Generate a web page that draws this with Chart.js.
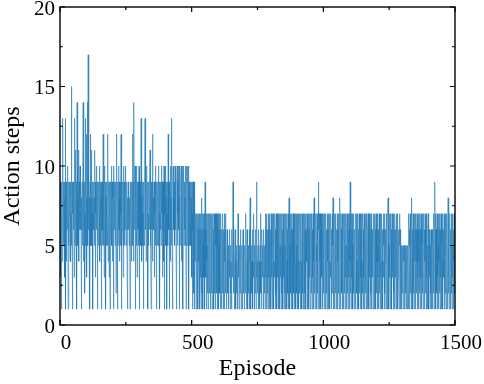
<!DOCTYPE html>
<html>
<head>
<meta charset="utf-8">
<script src="https://cdn.jsdelivr.net/npm/chart.js@4"></script>
<style>
  body { margin: 0; background: #fff; }
</style>
</head>
<body>
<canvas id="chartSteps" width="484" height="384"></canvas>
<script>
// action steps per episode, 250 episodes per block
const steps0 = [
  5,8,3,9,6,1,7,9,4,8,6,13,6,9,5,7,5,9,3,8,13,6,1,9,7,
  4,9,6,8,6,10,1,7,9,5,7,8,9,4,6,9,4,7,15,5,8,5,9,1,7,
  9,6,6,8,3,9,13,5,7,5,11,6,9,4,1,14,7,9,5,8,5,11,4,9,6,
  8,10,6,7,9,5,1,8,6,9,5,7,9,14,4,7,8,6,9,2,7,5,13,9,5,
  12,6,3,8,14,9,5,17,6,7,9,4,8,1,9,12,6,5,7,9,11,5,8,5,9,
  1,7,9,6,6,8,5,11,9,5,3,7,9,6,8,10,6,1,9,7,5,9,6,8,6,
  10,4,7,9,5,7,8,9,1,6,9,5,7,6,12,8,5,9,3,7,10,6,9,6,1,
  8,9,5,7,6,9,5,12,4,8,6,9,3,7,9,1,5,8,9,6,10,6,5,9,7,
  4,8,9,1,6,10,6,9,7,5,5,8,9,2,12,6,9,7,1,7,9,5,8,10,6,
  9,4,6,8,9,5,7,12,1,9,5,6,8,6,9,3,7,10,5,9,5,8,6,10,6
];
const steps1 = [
  9,5,7,5,9,3,8,1,6,9,6,7,9,5,8,5,1,9,6,7,6,9,4,8,5,
  12,6,5,9,4,8,14,6,7,9,10,1,5,9,6,10,5,8,3,9,7,6,9,5,6,
  10,1,8,5,9,6,7,5,13,6,9,4,8,6,9,5,7,1,9,6,5,8,9,13,6,
  7,9,4,5,8,10,6,6,9,1,7,5,9,8,6,6,9,11,5,8,5,1,9,7,6,
  9,12,4,7,6,8,6,9,3,5,7,9,5,6,10,6,1,8,9,5,7,6,9,5,8,
  10,5,6,9,1,7,9,6,8,5,10,5,7,9,3,6,6,9,8,4,10,5,1,7,9,
  10,6,5,8,6,9,1,7,9,5,5,12,8,6,9,1,6,9,7,4,10,6,8,13,5,
  9,5,7,1,9,10,6,6,8,5,9,5,10,7,6,9,4,8,1,9,10,6,5,7,9,
  10,6,8,1,9,10,5,7,6,9,10,4,6,9,5,8,10,1,7,9,10,5,6,9,6,
  8,10,5,9,1,10,7,9,5,10,6,9,6,10,1,9,8,5,9,7,6,9,5,8,9
];
const steps2 = [
  9,3,7,9,1,6,9,5,2,9,7,1,9,4,6,5,7,1,3,7,6,2,5,7,1,
  6,4,7,2,5,7,1,6,3,7,5,1,7,8,2,6,7,4,1,5,7,3,6,2,7,
  1,9,5,7,3,6,1,7,4,5,2,7,6,1,5,7,3,6,2,7,4,1,6,7,5,
  2,7,6,1,4,7,5,3,6,1,7,5,2,6,7,4,1,5,7,3,6,2,7,1,5,
  6,3,7,1,5,4,7,2,6,1,5,7,3,4,1,6,5,2,7,4,1,5,6,3,7,
  1,4,6,2,5,7,3,4,1,4,6,4,2,4,5,1,4,4,3,6,4,1,4,5,2,
  4,4,1,6,4,3,4,9,4,2,5,4,1,4,4,6,3,4,1,4,5,2,4,4,1,
  4,7,4,3,4,1,4,5,4,2,6,4,4,1,3,4,5,4,1,4,6,2,4,4,3,
  1,4,5,4,2,4,7,4,1,3,4,6,4,1,4,5,2,4,4,1,6,4,8,3,4,
  1,4,5,4,2,4,6,1,4,3,4,7,4,1,5,4,2,4,6,4,1,4,9,3,4
];
const steps3 = [
  2,4,5,1,4,6,4,3,4,1,5,4,7,2,4,4,1,6,4,3,5,4,1,4,6,
  4,2,5,4,1,7,4,3,6,1,5,7,2,6,4,1,7,5,3,6,1,7,4,2,6,
  5,1,7,3,6,4,1,7,5,2,6,7,1,4,6,3,7,5,1,6,2,7,4,5,1,
  7,3,6,5,1,7,4,2,6,7,1,5,3,7,6,1,4,7,2,5,6,1,7,3,5,
  6,1,7,4,2,5,7,1,6,3,7,5,1,4,6,2,7,5,1,6,8,3,7,1,5,
  4,7,2,6,1,5,7,3,6,1,7,4,5,2,7,6,1,5,3,7,6,1,4,7,2,
  5,7,1,6,3,7,5,1,4,6,2,7,5,1,6,7,3,4,1,7,5,2,6,1,7,
  4,6,1,5,7,2,6,3,7,1,5,6,4,7,1,3,6,5,2,7,1,6,4,7,3,
  1,5,7,6,2,4,7,1,6,5,3,7,1,6,4,8,2,5,7,1,6,3,7,5,1,
  4,7,6,2,5,1,9,3,6,7,1,5,4,7,2,6,1,7,5,3,6,1,4,7,5
];
const steps4 = [
  2,7,6,1,5,3,7,4,1,6,7,2,5,6,1,7,3,4,6,1,7,5,2,6,7,
  1,4,6,3,7,5,1,6,2,7,4,5,8,1,6,7,3,5,1,7,6,2,4,7,1,
  5,6,3,7,1,4,6,7,2,5,1,7,6,8,3,5,1,7,4,6,2,7,1,5,6,
  3,7,1,6,5,2,7,4,1,6,7,3,5,1,6,7,2,4,6,1,7,5,3,6,1,
  7,4,9,2,6,5,1,7,3,6,4,7,1,5,6,2,7,1,4,6,5,3,7,1,6,
  5,7,2,4,6,1,7,3,5,6,1,7,4,2,6,7,1,5,3,6,7,1,4,5,2,
  7,6,1,5,3,7,4,1,6,5,2,7,6,1,3,7,5,4,1,6,7,2,5,1,7,
  3,6,4,1,7,5,2,6,1,7,4,3,6,5,1,7,2,6,4,1,5,7,3,6,1,
  7,5,2,4,6,1,7,3,5,6,1,4,7,2,6,5,1,7,3,4,6,1,7,5,2,
  6,1,4,7,3,5,6,1,7,2,4,6,5,1,7,3,6,4,1,5,7,8,2,6,1
];
const steps5 = [
  5,7,3,6,1,4,7,5,2,6,1,7,4,3,6,5,1,7,2,6,4,1,7,5,3,
  6,1,7,4,5,2,6,7,1,3,5,6,4,1,7,2,5,6,1,4,3,5,1,4,2,
  5,3,4,1,5,2,4,5,1,3,5,4,2,5,1,4,3,5,2,1,5,4,3,5,1,
  7,4,6,1,5,7,2,6,3,7,1,8,5,4,6,1,7,2,5,6,1,7,3,4,6,
  1,7,5,2,6,4,7,1,5,3,6,7,1,4,6,2,7,5,1,6,3,7,4,1,5,
  6,7,2,4,1,6,5,7,3,1,6,4,7,2,5,6,1,7,3,5,4,1,6,7,2,
  5,1,6,4,3,6,1,5,2,6,4,1,5,6,3,1,6,5,2,4,7,1,6,5,9,
  3,7,1,6,4,5,2,7,1,6,3,5,7,1,4,6,2,7,5,1,6,3,7,4,1,
  5,6,2,7,1,4,6,5,3,7,1,6,4,2,7,5,1,6,3,7,4,1,5,6,8,
  2,7,5,1,6,4,7,3,1,6,5,2,7,4,1,6,7,3,5,1,6,4,7,2,5
];
const xTicks = [0, 500, 1000, 1500];
const xMinor = [250, 750, 1250];
const yTicks = [0, 5, 10, 15, 20];
const yMinor = [2.5, 7.5, 12.5, 17.5];

const steps = [].concat(steps0, steps1, steps2, steps3, steps4, steps5);
const points = steps.map((v, i) => ({ x: i, y: v }));

const serif = 'Liberation Serif, Times New Roman, serif';

// frame on all four sides with ticks pointing inward
const frameTicks = {
  id: 'frameTicks',
  afterDraw(chart) {
    const { ctx, chartArea: a, scales: { x, y } } = chart;
    ctx.save();
    ctx.strokeStyle = '#000';
    ctx.lineWidth = 1.4;
    ctx.strokeRect(a.left, a.top, a.right - a.left, a.bottom - a.top);
    ctx.lineWidth = 1.2;
    const xt = (v, len) => {
      const px = x.getPixelForValue(v);
      ctx.beginPath();
      ctx.moveTo(px, a.bottom); ctx.lineTo(px, a.bottom - len);
      ctx.moveTo(px, a.top); ctx.lineTo(px, a.top + len);
      ctx.stroke();
    };
    const yt = (v, len) => {
      const py = y.getPixelForValue(v);
      ctx.beginPath();
      ctx.moveTo(a.left, py); ctx.lineTo(a.left + len, py);
      ctx.moveTo(a.right, py); ctx.lineTo(a.right - len, py);
      ctx.stroke();
    };
    xTicks.forEach(v => xt(v, 5));
    xMinor.forEach(v => xt(v, 3));
    yTicks.forEach(v => yt(v, 5));
    yMinor.forEach(v => yt(v, 3));
    ctx.restore();
  }
};

new Chart(document.getElementById('chartSteps'), {
  type: 'line',
  data: {
    datasets: [{
      data: points,
      borderColor: 'rgb(31, 119, 180)',
      borderWidth: 0.6,
      pointRadius: 0,
      tension: 0,
      fill: false,
    }]
  },
  options: {
    responsive: false,
    animation: false,
    devicePixelRatio: 1,
    layout: { padding: { left: 0, right: 29, top: 7, bottom: 0 } },
    plugins: { legend: { display: false }, tooltip: { enabled: false } },
    scales: {
      x: {
        type: 'linear',
        min: 0,
        max: 1500,
        grid: { display: false, drawTicks: false },
        border: { display: false },
        ticks: {
          stepSize: 500,
          padding: 6,
          labelOffset: 6,
          color: '#000',
          maxRotation: 0,
          callback: v => String(v),
          font: { family: serif, size: 21 }
        },
        title: {
          display: true,
          text: 'Episode',
          color: '#000',
          padding: { top: 0, bottom: 1 },
          font: { family: serif, size: 24 }
        },
        afterFit(s) { s.height = 59; s.paddingLeft = 0; s.paddingRight = 0; }
      },
      y: {
        min: 0,
        max: 20,
        grid: { display: false, drawTicks: false },
        border: { display: false },
        ticks: {
          stepSize: 5,
          padding: 5,
          labelOffset: 2,
          color: '#000',
          callback: v => String(v),
          font: { family: serif, size: 21 }
        },
        title: {
          display: true,
          text: 'Action steps',
          color: '#000',
          padding: { top: 0, bottom: 0 },
          font: { family: serif, size: 24, lineHeight: 1.1 }
        },
        afterFit(s) { s.width = 60; s.paddingTop = 0; s.paddingBottom = 0; }
      }
    }
  },
  plugins: [frameTicks]
});
</script>
</body>
</html>
